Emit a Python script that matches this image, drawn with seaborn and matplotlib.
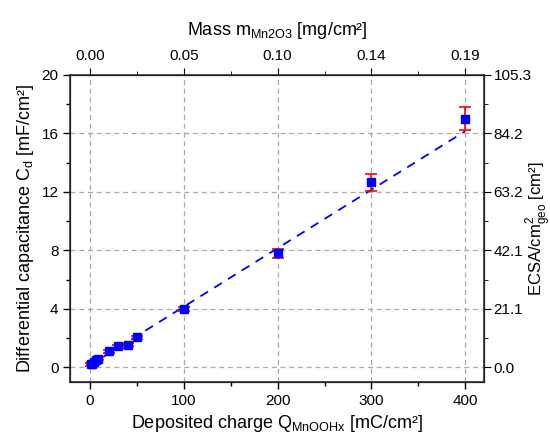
import numpy as np
import matplotlib
matplotlib.use("Agg")
import matplotlib.pyplot as plt
import seaborn as sns

# data
charge = [1, 2, 4, 6, 8, 20, 30, 40, 50, 100, 200, 300, 400]
cap = [0.2, 0.25, 0.35, 0.5, 0.6, 1.1, 1.45, 1.55, 2.05, 4.0, 7.8, 12.65, 17.0]
cap_err = [0.1, 0.1, 0.1, 0.1, 0.1, 0.1, 0.1, 0.1, 0.12, 0.15, 0.3, 0.6, 0.8]
fit_x = [0, 400]
fit_y = [0.15, 16.15]
mass_labels = ["0.00", "0.05", "0.10", "0.14", "0.19"]
ecsa_labels = ["0.0", "21.1", "42.1", "63.2", "84.2", "105.3"]

sns.set_style("ticks", {"text.color": "black", "xtick.color": "black",
                        "ytick.color": "black", "axes.labelcolor": "black",
                        "axes.edgecolor": "#222222"})
plt.rcParams['font.family'] = ['Liberation Sans', 'DejaVu Sans']
plt.rcParams['mathtext.fontset'] = 'custom'
plt.rcParams['mathtext.rm'] = 'Liberation Sans'

fig = plt.figure(figsize=(5.5, 4.38), dpi=100)
ax = fig.add_axes([0.128, 0.128, 0.752, 0.701])

sns.lineplot(x=fit_x, y=fit_y, ax=ax, color="blue", linestyle=(0, (5, 4)), lw=1.3)
ax.errorbar(charge, cap, yerr=cap_err, fmt="s", color="blue", ms=6,
            ecolor="red", elinewidth=1.2, capsize=4, capthick=1.2, zorder=3)

ax.set_xlim(-21, 420)
ax.set_ylim(-1, 20)
ax.set_xticks([0, 100, 200, 300, 400])
ax.set_xticks([50, 150, 250, 350], minor=True)
ax.set_yticks([0, 4, 8, 12, 16, 20])
ax.set_yticks([2, 6, 10, 14, 18], minor=True)
ax.grid(True, which="major", linestyle=(0, (4, 3)), color="#aaaaaa", lw=0.9)
ax.tick_params(which="both", direction="out", labelsize=11, width=1)
ax.tick_params(which="major", length=5)
ax.tick_params(which="minor", length=3)
for s in ax.spines.values():
    s.set_linewidth(1.1)
ax.set_xlabel(r"Deposited charge Q$_{\mathregular{MnOOHx}}$ [mC/cm²]", fontsize=13)
ax.set_ylabel(r"Differential capacitance C$_{\mathregular{d}}$ [mF/cm²]", fontsize=13)

top = ax.twiny()
top.set_xlim(ax.get_xlim())
top.set_xticks([0, 100, 200, 300, 400])
top.set_xticklabels(mass_labels)
top.set_xticks([50, 150, 250, 350], minor=True)
top.tick_params(which="both", direction="out", labelsize=11)
top.tick_params(which="major", length=5)
top.tick_params(which="minor", length=3)
top.set_xlabel(r"Mass m$_{\mathregular{Mn2O3}}$ [mg/cm²]", fontsize=13, labelpad=10)

right = ax.twinx()
right.set_ylim(ax.get_ylim())
right.set_yticks([0, 4, 8, 12, 16, 20])
right.set_yticklabels(ecsa_labels)
right.set_yticks([2, 6, 10, 14, 18], minor=True)
right.tick_params(which="both", direction="out", labelsize=11, pad=2)
right.tick_params(which="major", length=5)
right.tick_params(which="minor", length=3)
right.set_ylabel(r"ECSA/cm$^{\mathregular{2}}_{\mathregular{geo}}$ [cm²]", fontsize=12)
right.yaxis.set_label_coords(1.095, 0.5)

fig.savefig("out.png", dpi=100)
